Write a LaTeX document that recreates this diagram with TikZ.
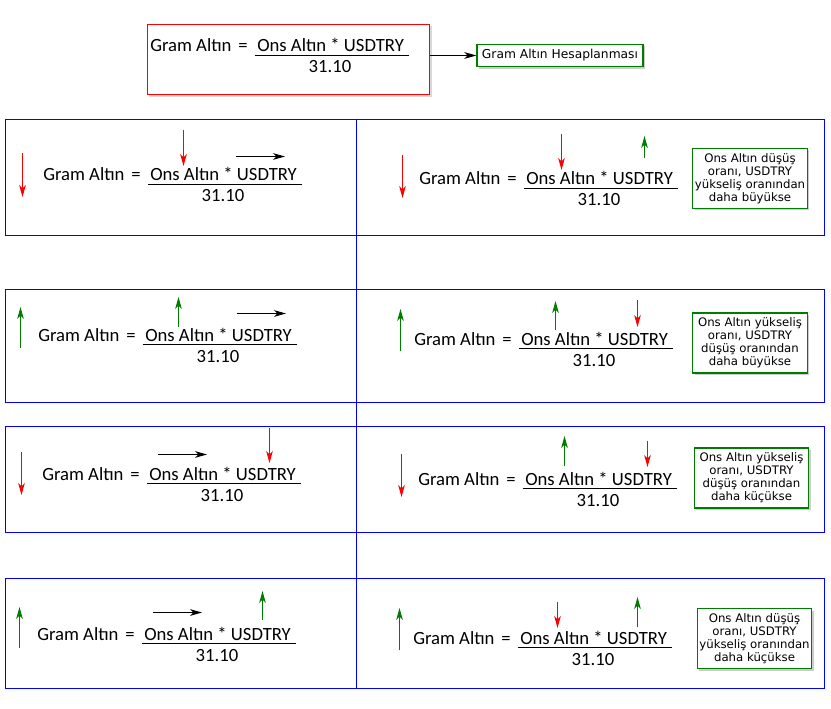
\documentclass[tikz,border=0pt]{standalone}
\usepackage{fontspec}
\setmainfont{Carlito}
\newfontfamily\notefont{DejaVu Sans}
\usepackage{tikz}
\usetikzlibrary{positioning,arrows.meta,shadows}
\usepackage{xcolor}

\definecolor{boxblue}{RGB}{0,0,255}
\definecolor{upgreen}{RGB}{0,125,0}
\definecolor{downred}{RGB}{250,0,0}

\tikzset{
  formtext/.style={inner sep=0pt, font=\fontsize{14}{16}\selectfont},
  fracline/.style={line width=0.8pt},
  notebox/.style={rectangle, draw=upgreen, line width=0.9pt, fill=white, align=center,
    font=\notefont\fontsize{8.8}{9.8}\selectfont, minimum width=86pt, minimum height=45pt,
    inner sep=1pt, drop shadow={shadow xshift=1.5pt, shadow yshift=-1.5pt, opacity=0.4}},
  rowbox/.style={draw=boxblue, line width=0.8pt},
  uparrow/.style={draw=upgreen, line width=0.8pt, -{Stealth[length=9pt, width=5pt, inset=2.5pt]}},
  downarrow/.style={draw=downred, line width=0.8pt, -{Stealth[length=9pt, width=5pt, inset=2.5pt]}},
  flatarrow/.style={draw=black, line width=0.8pt, -{Stealth[length=9pt, width=5pt, inset=2.5pt]}}
}

% #1 name, #2 left x of "Gram Altın", #3 y of the fraction line
\newcommand{\formul}[3]{%
  \node[formtext, anchor=base west] (#1g) at (#2,#3-3) {Gram Altın};
  \node[formtext, anchor=base] (#1e) at (#2+93,#3-3) {=};
  \node[formtext, anchor=base west] (#1n) at (#2+107,#3-3) {Ons Altın * USDTRY};
  \draw[fracline] (#2+105,#3+0.5) -- (#2+259,#3+0.5);
  \node[formtext, anchor=base] (#1d) at (#2+180,#3+18) {31.10};
}

\begin{document}
\begin{tikzpicture}[x=0.75pt, y=-0.75pt]

  \useasboundingbox[fill=white] (0,0) rectangle (831,709);

  % Top
  \node[rectangle, draw=red, line width=0.9pt, fill=white, minimum width=212pt, minimum height=53pt,
    drop shadow={shadow xshift=1.5pt, shadow yshift=-1.5pt, opacity=0.3}] (top) at (288.5,59.5) {};
  \formul{t}{150}{55}
  \node[notebox, font=\notefont\fontsize{9.2}{10}\selectfont, minimum width=124.5pt, minimum height=17pt] (hes) at (560,55.5) {Gram Altın Hesaplanması};
  \draw[flatarrow] (top.east |- hes.west) -- (hes.west);

  % Rows
  \draw[rowbox] (5.5,119.5) rectangle (824.5,235.5);
  \draw[rowbox] (5.5,289.5) rectangle (824.5,402.5);
  \draw[rowbox] (5.5,426.5) rectangle (824.5,532.5);
  \draw[rowbox] (5.5,578.5) rectangle (824.5,688.5);
  \draw[rowbox] (356.5,119.5) -- (356.5,688.5);

  % Row 1
  \formul{a}{43}{184}
  \formul{b}{419}{188}
  \draw[downarrow] (22.5,153) -- (22.5,197);
  \draw[downarrow] (183.5,130) -- (183.5,166);
  \draw[flatarrow] (236,156.5) -- (285,156.5);
  \draw[downarrow] (402.5,155) -- (402.5,198);
  \draw[downarrow] (561.5,134) -- (561.5,170);
  \draw[uparrow] (644.5,158) -- (644.5,136);
  \node[notebox] (na) at (750,178.5) {Ons Altın düşüş\\oranı, USDTRY\\yükseliş oranından\\daha büyükse};

  % Row 2
  \formul{c}{38}{344}
  \formul{d}{414}{348}
  \draw[uparrow] (20.5,348) -- (20.5,307);
  \draw[uparrow] (178.5,327) -- (178.5,297);
  \draw[flatarrow] (237,313.5) -- (286,313.5);
  \draw[uparrow] (400.5,351) -- (400.5,309);
  \draw[uparrow] (555.5,330) -- (555.5,301);
  \draw[downarrow] (637.5,300) -- (637.5,327);
  \node[notebox] (nb) at (750,343) {Ons Altın yükseliş\\oranı, USDTRY\\düşüş oranından\\daha büyükse};

  % Row 3
  \formul{e}{42}{483}
  \formul{f}{418}{488}
  \draw[downarrow] (21.5,452) -- (21.5,495);
  \draw[flatarrow] (158,454.5) -- (207,454.5);
  \draw[downarrow] (269.5,428) -- (269.5,463);
  \draw[downarrow] (401.5,454) -- (401.5,497);
  \draw[uparrow] (564.5,466) -- (564.5,436);
  \draw[downarrow] (647.5,441) -- (647.5,467);
  \node[notebox] (nc) at (751.5,478) {Ons Altın yükseliş\\oranı, USDTRY\\düşüş oranından\\daha küçükse};

  % Row 4
  \formul{g}{37}{643}
  \formul{h}{413}{647}
  \draw[uparrow] (19.5,648) -- (19.5,607);
  \draw[flatarrow] (153,612.5) -- (202,612.5);
  \draw[uparrow] (262.5,620) -- (262.5,591);
  \draw[uparrow] (399.5,650) -- (399.5,608);
  \draw[downarrow] (557.5,602) -- (557.5,628);
  \draw[uparrow] (637.5,627) -- (637.5,597);
  \node[notebox] (nd) at (754.5,638.5) {Ons Altın düşüş\\oranı, USDTRY\\yükseliş oranından\\daha küçükse};

\end{tikzpicture}
\end{document}
